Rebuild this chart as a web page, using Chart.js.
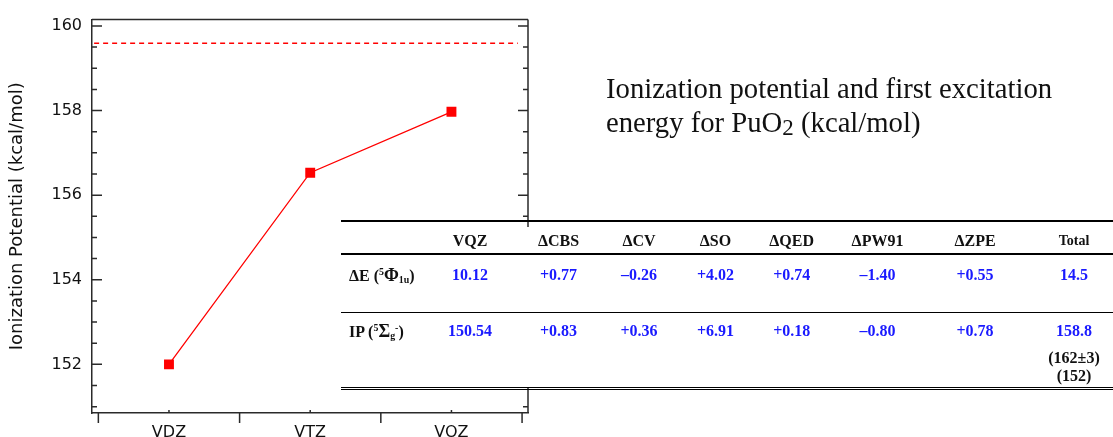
<!DOCTYPE html>
<html>
<head>
<meta charset="utf-8">
<script src="https://cdn.jsdelivr.net/npm/chart.js@4.4.1/dist/chart.umd.min.js"></script>
<style>
  html, body { margin:0; padding:0; background:#fff; }
  #wrap { position:relative; width:1113px; height:437px; overflow:hidden; background:#fff; }
  #c { position:absolute; left:0; top:0; }
  #title { position:absolute; left:606px; top:71px; font-family:"Liberation Serif","Times New Roman",serif; font-size:28.7px; line-height:34px; color:#111; white-space:nowrap; }
  #title sub { font-size:0.8em; vertical-align:-0.12em; line-height:0; }
  #tbl { position:absolute; left:341px; top:0; width:772px; height:437px; pointer-events:none; }
  .bg { position:absolute; left:0; top:227px; width:772px; height:160px; background:#fff; }
  .ln { position:absolute; left:0; width:772px; background:#000; }
  .t { position:absolute; font-family:"Liberation Serif","Times New Roman",serif; font-weight:bold; font-size:16px; line-height:16px; white-space:nowrap; transform:translate(-50%,-50%); color:#111; }
  .lab { transform:translate(0,-50%); }
  .blue { color:#1a1aff; }
  .t sup { font-size:0.62em; vertical-align:0.55em; line-height:0; }
  .t sub { font-size:0.62em; vertical-align:-0.25em; line-height:0; }
  .big { font-size:1.12em; }
</style>
</head>
<body>
<div id="wrap">
  <canvas id="c" width="1113" height="437"></canvas>
  <div id="title">Ionization potential and first excitation<br>energy for PuO<sub>2</sub> (kcal/mol)</div>
  <div id="tbl"></div>
</div>
<script>
// ---- chart data ----
const categories = ['VDZ', 'VTZ', 'VOZ'];
const ipValues = [152.0, 156.53, 157.97];
const referenceIP = 159.59;
const refLineX = [-0.53, 2.47];
const yTickLabels = [152, 154, 156, 158, 160];
const yMinorTicks = [151, 151.5, 152, 152.5, 153, 153.5, 154, 154.5, 155, 155.5, 156, 156.5, 157, 157.5, 158, 158.5, 159, 159.5, 160];
const xBoundaryTicks = [-0.5, 0.5, 1.5, 2.5];

// ---- table data ----
const colHeaders = ['VQZ', 'ΔCBS', 'ΔCV', 'ΔSO', 'ΔQED', 'ΔPW91', 'ΔZPE', 'Total'];
const rowDE = ['10.12', '+0.77', '–0.26', '+4.02', '+0.74', '–1.40', '+0.55', '14.5'];
const rowIP = ['150.54', '+0.83', '+0.36', '+6.91', '+0.18', '–0.80', '+0.78', '158.8'];
const totalNotes = ['(162±3)', '(152)'];

const AX = '#2a2a2a';

const framePlugin = {
  id: 'frame',
  afterDraw(chart) {
    const {ctx, chartArea: a} = chart;
    const xs = chart.scales.x, ys = chart.scales.y;
    ctx.save();
    ctx.strokeStyle = AX;
    ctx.lineWidth = 1.5;
    ctx.beginPath();
    ctx.moveTo(a.left, a.top); ctx.lineTo(a.right, a.top);
    ctx.moveTo(a.right, a.top); ctx.lineTo(a.right, a.bottom);
    yMinorTicks.forEach(v => {
      const y = ys.getPixelForValue(v);
      const major = yTickLabels.includes(v);
      const L = major ? 10 : 5;
      ctx.moveTo(a.left, y); ctx.lineTo(a.left + L, y);
      ctx.moveTo(a.right, y); ctx.lineTo(a.right - L, y);
    });
    xBoundaryTicks.forEach(v => {
      const x = xs.getPixelForValue(v);
      ctx.moveTo(x, a.bottom); ctx.lineTo(x, a.bottom + 10);
    });
    categories.forEach((c, i) => {
      const x = xs.getPixelForValue(i);
      ctx.moveTo(x, a.bottom); ctx.lineTo(x, a.bottom - 3);
    });
    ctx.stroke();
    ctx.restore();
  }
};

new Chart(document.getElementById('c'), {
  type: 'line',
  data: {
    datasets: [
      {
        data: ipValues.map((v, i) => ({x: i, y: v})),
        borderColor: '#ff0000',
        backgroundColor: '#ff0000',
        borderWidth: 1.3,
        pointStyle: 'rect',
        pointRadius: 7,
        pointBorderWidth: 0,
        pointBackgroundColor: '#ff0000'
      },
      {
        data: refLineX.map(x => ({x: x, y: referenceIP})),
        borderColor: '#ff0000',
        borderWidth: 1.6,
        borderDash: [5, 4],
        pointRadius: 0
      }
    ]
  },
  options: {
    responsive: false,
    devicePixelRatio: 1,
    animation: false,
    layout: { padding: { left: 0, top: 15, right: 585, bottom: 0 } },
    plugins: { legend: { display: false }, tooltip: { enabled: false } },
    scales: {
      x: {
        type: 'linear',
        min: -0.545,
        max: 2.542,
        afterBuildTicks: s => { s.ticks = categories.map((c, i) => ({value: i})); },
        afterFit: s => { s.height = 24; },
        grid: { display: false, drawTicks: false },
        border: { display: true, color: AX, width: 1.5 },
        ticks: {
          autoSkip: false, maxRotation: 0, padding: 10,
          color: '#111',
          font: { family: 'DejaVu Sans', size: 16 },
          callback: v => categories[v] ?? ''
        }
      },
      y: {
        min: 150.85,
        max: 160.15,
        afterBuildTicks: s => { s.ticks = yTickLabels.map(v => ({value: v})); },
        afterFit: s => { s.width = 92; },
        grid: { display: false, drawTicks: false },
        border: { display: true, color: AX, width: 1.5 },
        ticks: {
          padding: 10,
          color: '#111',
          font: { family: 'DejaVu Sans', size: 16 },
          callback: v => String(v)
        },
        title: {
          display: true,
          text: 'Ionization Potential (kcal/mol)',
          color: '#111',
          font: { family: 'DejaVu Sans', size: 18 },
          padding: { top: 7, bottom: 0 }
        }
      }
    }
  },
  plugins: [framePlugin]
});

// ---- overlay table ----
(function () {
  const T = document.getElementById('tbl');
  const L = 341;
  const colX = [470, 558.5, 639, 715.5, 791.7, 877.5, 975, 1074].map(x => x - L);
  const add = (html, cls, x, y, extra) => {
    const d = document.createElement('div');
    d.className = 't ' + (cls || '');
    d.innerHTML = html;
    d.style.left = x + 'px';
    d.style.top = y + 'px';
    if (extra) Object.assign(d.style, extra);
    T.appendChild(d);
  };
  const line = (y, h) => {
    const d = document.createElement('div');
    d.className = 'ln';
    d.style.top = y + 'px';
    d.style.height = h + 'px';
    T.appendChild(d);
  };
  const bg = document.createElement('div'); bg.className = 'bg'; T.appendChild(bg);
  line(219.7, 2);
  line(253.3, 2);
  line(311.7, 1.3);
  line(386.7, 1.2);
  line(388.8, 1.2);
  colHeaders.forEach((h, i) => add(h, '', colX[i], 241, i === 7 ? {fontSize: '14px'} : null));
  rowDE.forEach((v, i) => add(v, 'blue', colX[i], 274.5));
  rowIP.forEach((v, i) => add(v, 'blue', colX[i], 331));
  add(totalNotes[0], '', colX[7], 357.5);
  add(totalNotes[1], '', colX[7], 376);
  add('ΔE (<sup>5</sup><span class="big">Φ</span><sub>1u</sub>)', 'lab', 349 - L, 274.5);
  add('IP (<sup>5</sup><span class="big">Σ</span><sub>g</sub><sup>-</sup>)', 'lab', 349 - L, 331);
})();
</script>
</body>
</html>
